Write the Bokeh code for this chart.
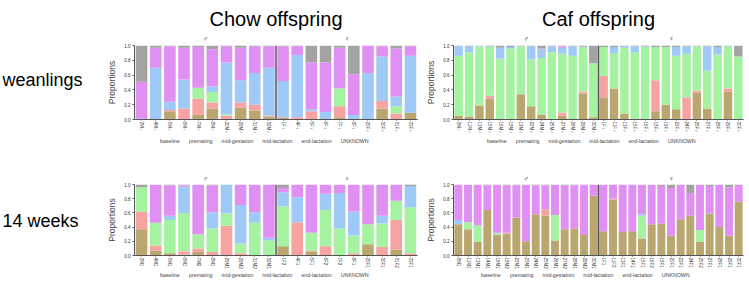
from bokeh.plotting import figure
from bokeh.models import (FactorRange, Range1d, Label, Legend, LegendItem, Span, FixedTicker,
                          NumeralTickFormatter)
from bokeh.layouts import column, row
from bokeh.embed import file_html
from bokeh.resources import INLINE

STAGES = ["baseline", "premating", "mid-gestation", "mid-lactation", "end-lactation", "UNKNOWN"]
KEYS = ["baseline", "premating", "mid_gestation", "mid_lactation", "end_lactation", "unknown"]
COLORS = ["#b9a76f", "#f7a3a1", "#a5f3a0", "#9fc9f6", "#e08ff2", "#a3a3a3"]
SEXES = ["\u2642", "\u2640"]
COL_TITLES = ["Chow offspring", "Caf offspring"]
ROW_TITLES = ["weanlings", "14 weeks"]

# ---- Chow offspring, weanlings ----
cw_male = ["2M\u2642", "4M\u2642", "5M\u2642", "6M\u2642", "7M\u2642", "8M\u2642", "20M\u2642", "29M\u2642", "31M\u2642", "32M\u2642"]
cw_female = ["1F\u2640", "4F\u2640", "5F\u2640", "6F\u2640", "7F\u2640", "8F\u2640", "20F\u2640", "30F\u2640", "31F\u2640", "33F\u2640"]
cw_baseline = [0, 0, .11, 0, .06, .15, 0, .16, .12, .04, .02, 0, 0, 0, .03, 0, 0, .15, 0, .09]
cw_premating = [0, 0, .02, .15, .22, .08, .05, .07, .08, .01, .01, .03, .11, 0, .15, 0, 0, .10, .08, 0]
cw_mid_gestation = [0, 0, 0, 0, .15, .14, .02, 0, 0, 0, 0, 0, 0, 0, .24, 0, 0, 0, .10, 0]
cw_mid_lactation = [.01, .70, .11, .39, 0, .08, .70, .30, .43, .65, .49, .84, .03, .10, 0, .06, .63, .60, .13, .77]
cw_end_lactation = [.50, .27, .75, .43, .55, .50, .22, .44, .36, .29, .47, .12, .63, .67, .55, .55, .37, .14, .65, .13]
cw_unknown = [.49, .03, .01, .03, .02, .05, .01, .03, .01, .01, .01, .01, .23, .23, .03, .39, 0, .01, .04, .01]

# ---- Caf offspring, weanlings ----
fw_male = ["3M\u2642", "11M\u2642", "13M\u2642", "15M\u2642", "16M\u2642", "18M\u2642", "19M\u2642", "22M\u2642", "24M\u2642", "25M\u2642", "27M\u2642", "28M\u2642", "29M\u2642", "30M\u2642"]
fw_female = ["1F\u2640", "11F\u2640", "13F\u2640", "15F\u2640", "16F\u2640", "18F\u2640", "19F\u2640", "22F\u2640", "24F\u2640", "25F\u2640", "27F\u2640", "28F\u2640", "29F\u2640", "30F\u2640"]
fw_baseline = [.05, .04, .19, .28, 0, 0, .34, .18, .06, .01, .05, 0, .35, .03, .30, .42, .08, 0, 0, .11, .20, .14, 0, .36, .15, 0, .37, 0]
fw_premating = [0, 0, 0, .04, 0, 0, 0, 0, 0, 0, .04, 0, .03, 0, .29, 0, 0, 0, 0, .42, 0, 0, .30, .03, 0, 0, .05, 0]
fw_mid_gestation = [.81, .87, .80, .66, .82, .96, .65, .63, .77, .90, .80, .86, .60, .73, .39, .48, .89, .91, .98, .45, .78, .72, .59, .60, .51, .88, .57, .85]
fw_mid_lactation = [.13, .08, .01, .01, .15, .02, 0, .18, .12, .08, .08, .13, 0, 0, 0, .08, .02, .08, .01, 0, 0, .12, .10, 0, .33, .10, 0, 0]
fw_end_lactation = [0, 0, 0, 0, 0, 0, 0, 0, .01, 0, .02, 0, .01, 0, 0, 0, 0, 0, 0, 0, 0, 0, 0, 0, 0, 0, 0, 0]
fw_unknown = [.01, .01, 0, .01, .03, .02, .01, .01, .04, .01, .01, .01, .01, .24, .02, .02, .01, .01, .01, .02, .02, .02, .01, .01, .01, .02, .01, .15]

# ---- Chow offspring, 14 weeks ----
c14_male = ["3M1", "4M1", "5M1", "6M1", "7M2", "8M1", "29M1", "29M2", "31M2", "32M1"]
c14_female = ["1F2", "4F1", "5F1", "6F2", "7F2", "8F1", "20F1", "30F1", "31F2", "33F1"]
c14_baseline = [.37, .07, .03, .01, .05, 0, 0, 0, 0, 0, .13, 0, .06, 0, 0, 0, .16, 0, .08, 0]
c14_premating = [.25, .07, 0, .05, .05, .05, .42, .03, 0, 0, 0, .47, .01, .13, 0, .03, 0, .12, .42, .03]
c14_mid_gestation = [.34, .32, .47, .54, .20, .33, .17, .14, .46, .21, .56, 0, .25, .51, .38, .25, .28, .33, .27, .65]
c14_mid_lactation = [0, 0, .06, .37, 0, .23, .41, .54, .15, .04, .20, .35, 0, .23, .50, .34, 0, .11, 0, .30]
c14_end_lactation = [0, .54, .43, .02, .70, .38, 0, .29, .39, .75, .06, .18, .68, .13, .12, .38, .56, .44, .23, 0]
c14_unknown = [.04, 0, .01, .01, 0, .01, 0, 0, 0, 0, .05, 0, 0, 0, 0, 0, 0, 0, 0, .02]

# ---- Caf offspring, 14 weeks ----
f14_male = ["8M1", "11M1", "13M1", "14M1", "16M1", "18M2", "22M1", "23M1", "24M1", "25M2", "26M1", "27M2", "28M1", "29M2", "30M1"]
f14_female = ["1F1", "11F2", "13F1", "14F1", "15F1", "16F2", "18F1", "20F1", "22F1", "24F1", "25F2", "27F1", "28F1", "29F1", "30F1"]
f14_baseline = [.44, .37, .19, .64, .29, .31, .53, .20, .58, .56, .21, .37, .38, .29, .84, .34, .79, .33, .34, .24, .44, .45, .28, .51, .56, .19, .59, .40, .28, .76]
f14_premating = [0, 0, 0, 0, 0, .01, 0, 0, 0, .09, 0, 0, 0, 0, 0, 0, .01, 0, 0, 0, 0, 0, 0, 0, 0, 0, 0, 0, 0, 0]
f14_mid_gestation = [0, .10, .24, 0, .02, 0, 0, 0, 0, 0, .36, 0, 0, 0, 0, 0, 0, 0, 0, .32, 0, 0, 0, 0, 0, .17, 0, 0, 0, 0]
f14_mid_lactation = [.06, 0, 0, 0, .01, 0, 0, 0, 0, 0, 0, 0, 0, 0, 0, 0, 0, 0, 0, .02, 0, 0, 0, 0, 0, 0, 0, 0, 0, 0]
f14_end_lactation = [.50, .53, .57, .35, .68, .67, .46, .80, .41, .34, .43, .62, .61, .71, .16, .66, .20, .67, .66, .42, .56, .53, .67, .49, .32, .64, .39, .60, .68, .24]
f14_unknown = [0, 0, 0, .01, 0, .01, .01, 0, .01, .01, 0, .01, .01, 0, 0, 0, 0, 0, 0, 0, 0, .02, .05, 0, .12, 0, .02, 0, .04, 0]

FONT = "Liberation Sans"
TOTAL_W = 749
LABEL_W = 100           # row-title column
AX_W = 34               # left border holding y axis of each panel
GAP = [2, 6]            # right border of each panel
PANEL_W = [319, 330]
FRAME_W = [PANEL_W[0] - AX_W - GAP[0], PANEL_W[1] - AX_W - GAP[1]]
FRAME_X0 = [LABEL_W + AX_W, LABEL_W + PANEL_W[0] + AX_W]
TOP_PAD = 3


def blank(width, height):
    f = figure(width=width, height=height, x_range=Range1d(0, width), y_range=Range1d(0, height),
               min_border=0, output_backend="svg", toolbar_location=None)
    f.axis.visible = False
    f.grid.visible = False
    f.outline_line_color = None
    return f


def panel(col, male, female, series, height, bottom):
    labels = male + female
    nm = len(male)
    p = figure(x_range=FactorRange(*labels, range_padding=0), y_range=Range1d(0, 1),
               width=PANEL_W[col], height=height,
               min_border_left=AX_W, min_border_right=GAP[col],
               min_border_top=TOP_PAD, min_border_bottom=bottom,
               output_backend="svg", toolbar_location=None)
    p.outline_line_color = None
    p.xgrid.visible = False
    p.ygrid.visible = False
    src = dict(x=labels)
    for k, v in zip(KEYS, series):
        src[k] = v
    p.vbar_stack(KEYS, x="x", width=0.82, color=COLORS, line_color=None, source=src)

    p.yaxis.ticker = FixedTicker(ticks=[0, 0.2, 0.4, 0.6, 0.8, 1.0])
    p.yaxis.formatter = NumeralTickFormatter(format="0.0")
    p.yaxis.axis_label = "Proportions"
    p.yaxis.axis_label_text_font = FONT
    p.yaxis.axis_label_text_font_style = "normal"
    p.yaxis.axis_label_text_font_size = "8.5px"
    p.yaxis.axis_label_standoff = 4
    p.yaxis.minor_tick_line_color = None
    p.axis.major_label_text_font = FONT
    p.yaxis.major_label_text_font_size = "4.5px"
    p.xaxis.major_label_text_font_size = "4.5px"
    p.axis.major_label_text_color = "#333333"
    p.axis.axis_line_color = "#555555"
    p.axis.major_tick_line_color = "#555555"
    p.yaxis.major_tick_out = 2
    p.xaxis.major_tick_out = 1
    p.axis.major_tick_in = 0
    p.yaxis.major_label_standoff = 2
    p.xaxis.major_label_standoff = 1
    p.xaxis.major_label_orientation = "vertical"

    # male / female divider
    p.add_layout(Span(location=nm, dimension="height", line_color="#555555", line_width=1.5))
    return p


def header(height, y_title=None, y_sex=None):
    f = blank(TOTAL_W, height)
    for c in range(2):
        x0, w = FRAME_X0[c], FRAME_W[c]
        if y_title is not None:
            f.add_layout(Label(x=x0 + w / 2, y=height - y_title, text=COL_TITLES[c], text_align="center",
                               text_baseline="middle", text_font=FONT, text_font_size="20px",
                               text_color="#000000"))
        for i, s in enumerate(SEXES):
            f.add_layout(Label(x=x0 + w * (0.25 + 0.5 * i), y=height - y_sex, text=s, text_align="center",
                               text_baseline="middle", text_font_size="7px", text_color="#333333"))
    return f


def legend_strip(height, y_bottom, xs):
    f = blank(TOTAL_W, height)
    rs = [f.vbar(x=[], top=[], width=1, color=c, line_color=None) for c in COLORS]
    for x in xs:
        items = [LegendItem(label=s, renderers=[r]) for s, r in zip(STAGES, rs)]
        f.add_layout(Legend(items=items, orientation="horizontal", location=(x, y_bottom),
                            label_text_font=FONT, label_text_font_size="5.3px",
                            glyph_width=6, glyph_height=5, label_standoff=2, spacing=1,
                            padding=0, margin=0, border_line_color=None,
                            background_fill_alpha=0, label_height=6))
    return f


def row_title(text, height, y_from_top):
    f = blank(LABEL_W, height)
    f.add_layout(Label(x=2, y=height - y_from_top, text=text, text_align="left",
                       text_baseline="middle", text_font=FONT, text_font_size="18px",
                       text_color="#000000"))
    return f


H1 = 42
M1 = 3 + 74 + 17
L1 = 150 - H1 - M1
H2 = 31
M2 = 3 + 73 + 14
L2 = 281 - 150 - H2 - M2

tl = panel(0, cw_male, cw_female,
           [cw_baseline, cw_premating, cw_mid_gestation, cw_mid_lactation, cw_end_lactation, cw_unknown], M1, 17)
tr = panel(1, fw_male, fw_female,
           [fw_baseline, fw_premating, fw_mid_gestation, fw_mid_lactation, fw_end_lactation, fw_unknown], M1, 17)
bl = panel(0, c14_male, c14_female,
           [c14_baseline, c14_premating, c14_mid_gestation, c14_mid_lactation, c14_end_lactation, c14_unknown], M2, 14)
br = panel(1, f14_male, f14_female,
           [f14_baseline, f14_premating, f14_mid_gestation, f14_mid_lactation, f14_end_lactation, f14_unknown], M2, 14)

layout = column(
    header(H1, y_title=18, y_sex=38),
    row(row_title(ROW_TITLES[0], M1, 86 - H1), tl, tr),
    legend_strip(L1, L1 - 8, [152, 479]),
    header(H2, y_sex=H2 - 3),
    row(row_title(ROW_TITLES[1], M2, 227 - 150 - H2), bl, br),
    legend_strip(L2, 3, [152, 473]))

open("out.html", "w").write(file_html(layout, INLINE))
